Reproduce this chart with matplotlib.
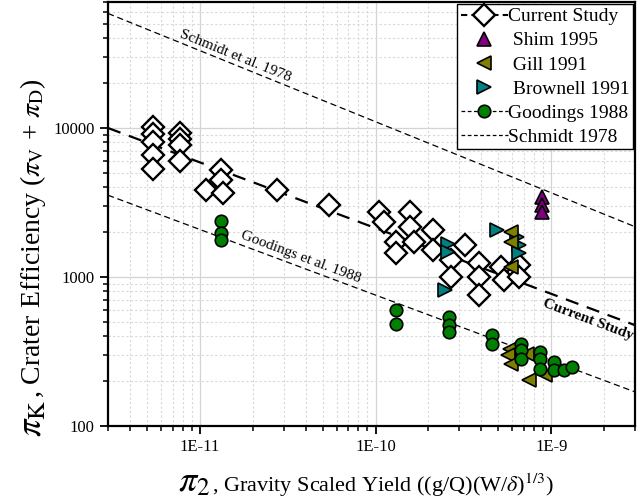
import numpy as np
import matplotlib.pyplot as plt
from matplotlib.lines import Line2D
from matplotlib.ticker import FuncFormatter, NullFormatter

plt.rcParams['font.family'] = 'Liberation Serif'
plt.rcParams['mathtext.fontset'] = 'stix'

# ---- data ----
current_x = [5.4e-12, 5.4e-12, 5.4e-12, 5.4e-12, 5.4e-12,
             7.7e-12, 7.7e-12, 7.7e-12, 7.7e-12,
             1.08e-11, 1.32e-11, 1.32e-11, 1.35e-11, 2.75e-11, 5.45e-11,
             1.05e-10, 1.12e-10, 1.31e-10, 1.31e-10, 1.58e-10, 1.58e-10, 1.66e-10,
             2.13e-10, 2.13e-10, 2.7e-10, 2.7e-10, 3.25e-10,
             3.9e-10, 3.9e-10, 3.9e-10, 5.2e-10, 5.4e-10, 6.6e-10, 6.6e-10]
current_y = [10150, 9100, 8000, 6550, 5300,
             9200, 8400, 7700, 6000,
             3860, 5200, 4500, 3660, 3860, 3030,
             2730, 2340, 1720, 1440, 2730, 2170, 1720,
             2060, 1510, 1295, 1000, 1630,
             1236, 1000, 760, 1167, 950, 1200, 1000]

shim_x = [8.9e-10, 8.9e-10, 8.9e-10]
shim_y = [3440, 3030, 2730]

gill_x = [5.9e-10, 5.9e-10, 5.9e-10, 5.8e-10, 5.7e-10, 5.9e-10, 7.3e-10, 7.5e-10, 9.2e-10]
gill_y = [2005, 1720, 1167, 331, 298, 262, 306, 203, 219]

brownell_x = [2.6e-10, 2.6e-10, 2.5e-10, 4.9e-10, 6.4e-10, 6.6e-10, 6.6e-10]
brownell_y = [1670, 1470, 815, 2060, 1855, 1630, 1440]

goodings_x = [1.32e-11, 1.32e-11, 1.32e-11, 1.31e-10, 1.31e-10,
              2.63e-10, 2.63e-10, 2.63e-10, 4.6e-10, 4.6e-10,
              6.7e-10, 6.7e-10, 6.7e-10, 8.6e-10, 8.6e-10, 8.6e-10,
              1.04e-9, 1.04e-9, 1.19e-9, 1.32e-9]
goodings_y = [2380, 1960, 1760, 598, 487,
              540, 474, 428, 406, 357,
              357, 322, 283, 314, 280, 243,
              269, 237, 237, 249]

# power-law fits: pi_K = coef * pi2 ** expo
current_fit = (0.0828, -0.441)
schmidt_fit = (0.187, -0.477)
goodings_fit = (0.0301, -0.44)

x_range = [3e-12, 3e-9]
y_range = [100, 70000]


def fit_line(fit):
    xs = np.array(x_range)
    return xs, fit[0] * xs ** fit[1]


def line_angle(ax, fit):
    xs, ys = fit_line(fit)
    p0 = ax.transData.transform((xs[0], ys[0]))
    p1 = ax.transData.transform((xs[1], ys[1]))
    return np.degrees(np.arctan2(p1[1] - p0[1], p1[0] - p0[0]))


W, H = 643, 503
fig = plt.figure(figsize=(W / 100, H / 100), dpi=100)
ax = fig.add_axes([108 / W, 1 - 426 / H, (635 - 108) / W, (426 - 2) / H])
ax.set_xscale('log')
ax.set_yscale('log')
ax.set_xlim(x_range)
ax.set_ylim(y_range)

ax.grid(which='major', color='#d4d4d4', lw=0.9, ls='-', zorder=0)
ax.grid(which='minor', color='#d8d8d8', lw=0.8, ls=(0, (2, 2)), zorder=0)
ax.set_axisbelow(True)

# fit lines
ax.plot(*fit_line(schmidt_fit), color='k', lw=0.9, ls=(0, (5, 3)), zorder=2)
ax.plot(*fit_line(goodings_fit), color='k', lw=0.9, ls=(0, (5, 3)), zorder=2)
ax.plot(*fit_line(current_fit), color='k', lw=1.6, ls=(0, (6, 4)), zorder=2)

# data
ax.plot(current_x, current_y, ls='none', marker='D', ms=11, mfc='white', mec='k', mew=1.7, zorder=3)
ax.plot(brownell_x, brownell_y, ls='none', marker='>', ms=10, mfc='#008080', mec='k', mew=1.2, zorder=4)
ax.plot(gill_x, gill_y, ls='none', marker='<', ms=10, mfc='#808000', mec='k', mew=1.2, zorder=4)
ax.plot(shim_x, shim_y, ls='none', marker='^', ms=10, mfc='#800080', mec='k', mew=1.2, zorder=4)
ax.plot(goodings_x, goodings_y, ls='none', marker='o', ms=9, mfc='#008000', mec='k', mew=1.2, zorder=4)

# line labels
ax.text(1.59e-11, 30300, 'Schmidt et al. 1978', fontsize=11, ha='center', va='center',
        rotation=line_angle(ax, schmidt_fit), rotation_mode='anchor')
ax.text(3.74e-11, 1355, 'Goodings et al. 1988', fontsize=11, ha='center', va='center',
        rotation=line_angle(ax, goodings_fit), rotation_mode='anchor')
ax.text(1.61e-9, 520, 'Current Study', fontsize=11, fontweight='bold', ha='center', va='center',
        rotation=line_angle(ax, current_fit), rotation_mode='anchor')

# axes styling
for sp in ax.spines.values():
    sp.set_linewidth(1.6)
ax.tick_params(which='major', direction='out', length=6, width=1.3, labelsize=12)
ax.tick_params(which='minor', direction='out', length=3.5, width=1.1)
ax.xaxis.set_major_formatter(FuncFormatter(lambda v, p: '1E%d' % round(np.log10(v))))
ax.yaxis.set_major_formatter(FuncFormatter(lambda v, p: '%d' % round(v)))
ax.xaxis.set_minor_formatter(NullFormatter())
ax.yaxis.set_minor_formatter(NullFormatter())

# legend
handles = [
    Line2D([], [], color='k', lw=1.5, ls=(0, (3, 2)), marker='D', ms=11, mfc='white', mec='k', mew=1.7),
    Line2D([], [], ls='none', marker='^', ms=10, mfc='#800080', mec='k', mew=1.2),
    Line2D([], [], ls='none', marker='<', ms=10, mfc='#808000', mec='k', mew=1.2),
    Line2D([], [], ls='none', marker='>', ms=10, mfc='#008080', mec='k', mew=1.2),
    Line2D([], [], color='k', lw=0.9, ls=(0, (3, 2)), marker='o', ms=9, mfc='#008000', mec='k', mew=1.2),
    Line2D([], [], color='k', lw=0.9, ls=(0, (3, 2))),
]
labels = ['Current Study', ' Shim 1995', ' Gill 1991', ' Brownell 1991', 'Goodings 1988', 'Schmidt 1978']
leg = ax.legend(handles, labels, loc='upper right', fontsize=14, frameon=True, fancybox=False,
                framealpha=1, edgecolor='k', borderaxespad=0.1, handlelength=2.4,
                handletextpad=0.0, labelspacing=0.33, borderpad=0.2)
leg.get_frame().set_linewidth(1.0)

# axis titles
fig.text(178 / W, 1 - 483 / H, r'$\pi_2$', fontsize=26, ha='left', va='center')
fig.text(212 / W, 1 - 485 / H, r', Gravity Scaled Yield ((g/Q)(W/$\delta$)$^{1/3}$)',
         fontsize=16, ha='left', va='center')
fig.text(33 / W, 1 - 418 / H, r'$\pi_{\mathrm{K}}$', fontsize=25, rotation=90, ha='center', va='center')
fig.text(33 / W, 1 - 398 / H, r', Crater Efficiency ($\pi_{\mathrm{V}}$ + $\pi_{\mathrm{D}}$)',
         fontsize=20, rotation=90, ha='center', va='bottom')

fig.savefig('out.png', dpi=100)
